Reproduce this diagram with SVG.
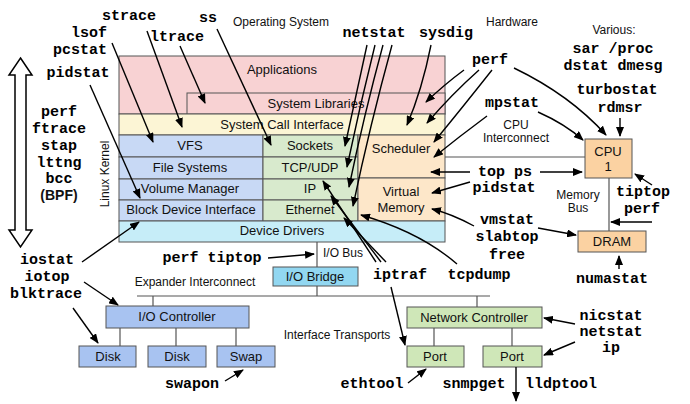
<svg xmlns="http://www.w3.org/2000/svg" width="690" height="404" viewBox="0 0 690 404">
<defs>
<marker id="ah" markerUnits="userSpaceOnUse" markerWidth="10" markerHeight="8" refX="9" refY="4" orient="auto"><path d="M0,0 L10,4 L0,8 Z" fill="#000"/></marker>
</defs>
<style>
.t{font-family:"Liberation Sans",Arial,sans-serif;font-size:13px;fill:#111;text-anchor:middle}
.s{font-size:12px}
.m{font-family:"Liberation Mono","Courier New",monospace;font-size:15px;font-weight:bold;fill:#000;text-anchor:middle}
.b{stroke:#555;stroke-width:1}
.pink{fill:#f8d2d3}
.yel{fill:#fcf5d5}
.blu{fill:#c8d9f5}
.grn{fill:#d8eacd}
.org{fill:#fde7c9}
.cyn{fill:#c6edf8}
.hw{fill:#fbd2a2}
.dsk{fill:#a8c3f1}
.nic{fill:#cfe7b8}
.a{fill:none;stroke:#000;stroke-width:1.4;marker-end:url(#ah)}
.l{fill:none;stroke:#555;stroke-width:1.2}
</style>
<rect width="690" height="404" fill="#fff"/>

<g id="labels">
<text class="t s" x="281" y="26">Operating System</text>
<text class="t s" x="512" y="26">Hardware</text>
<text class="t s" x="614" y="34">Various:</text>
<text class="t s" x="516" y="129">CPU</text>
<text class="t s" x="516" y="142">Interconnect</text>
<text class="t s" x="578" y="199">Memory</text>
<text class="t s" x="578" y="212">Bus</text>
<text class="t s" x="343" y="257">I/O Bus</text>
<text class="t s" x="195" y="286">Expander Interconnect</text>
<text class="t s" x="337" y="339">Interface Transports</text>
<text class="t s" transform="rotate(-90 105 174)" x="105" y="178">Linux Kernel</text>
</g>

<g id="tracers-arrow">
<polygon points="20.5,58 32,75 26,75 26,230 32,230 20.5,247 9,230 15,230 15,75 9,75" fill="#fff" stroke="#000" stroke-width="1.5"/>
<text class="m" x="59" y="116">perf</text>
<text class="m" x="59" y="133">ftrace</text>
<text class="m" x="59" y="150">stap</text>
<text class="m" x="59" y="167">lttng</text>
<text class="m" x="59" y="183">bcc</text>
<text class="t" x="59" y="200" style="font-size:14px;font-weight:bold">(BPF)</text>
</g>

<g id="applications"><rect class="b pink" x="119" y="56" width="326" height="58"/><text class="t" x="282" y="74">Applications</text></g>
<g id="system-libraries"><rect class="b pink" x="187" y="93" width="258" height="21"/><text class="t" x="316" y="108">System Libraries</text></g>
<g id="system-call-interface"><rect class="b yel" x="119" y="114" width="326" height="21"/><text class="t" x="282" y="129">System Call Interface</text></g>
<g id="vfs"><rect class="b blu" x="119" y="135" width="144" height="22"/><text class="t" x="190" y="150">VFS</text></g>
<g id="file-systems"><rect class="b blu" x="119" y="157" width="144" height="22"/><text class="t" x="190" y="172">File Systems</text></g>
<g id="volume-manager"><rect class="b blu" x="119" y="179" width="144" height="21"/><text class="t" x="190" y="193">Volume Manager</text></g>
<g id="block-device-interface"><rect class="b blu" x="119" y="200" width="144" height="21"/><text class="t" x="191" y="214">Block Device Interface</text></g>
<g id="sockets"><rect class="b grn" x="263" y="135" width="95" height="22"/><text class="t" x="310" y="150">Sockets</text></g>
<g id="tcp-udp"><rect class="b grn" x="263" y="157" width="95" height="22"/><text class="t" x="310" y="172">TCP/UDP</text></g>
<g id="ip"><rect class="b grn" x="263" y="179" width="95" height="21"/><text class="t" x="310" y="193">IP</text></g>
<g id="ethernet"><rect class="b grn" x="263" y="200" width="95" height="21"/><text class="t" x="310" y="214">Ethernet</text></g>
<g id="scheduler"><rect class="b org" x="358" y="135" width="87" height="43"/><text class="t" x="401" y="153">Scheduler</text></g>
<g id="virtual-memory"><rect class="b org" x="358" y="178" width="87" height="43"/><text class="t" x="401" y="196">Virtual</text><text class="t" x="401" y="212">Memory</text></g>
<g id="device-drivers"><rect class="b cyn" x="119" y="221" width="326" height="21"/><text class="t" x="282" y="235">Device Drivers</text></g>

<g id="cpu"><rect class="b hw" x="585" y="139" width="47" height="39"/><text class="t" x="608" y="156">CPU</text><text class="t" x="608" y="171">1</text></g>
<g id="dram"><rect class="b hw" x="578" y="231" width="68" height="21"/><text class="t" x="612" y="246">DRAM</text></g>
<g id="io-bridge"><rect class="b" fill="#92d7f1" x="273" y="267" width="85" height="19"/><text class="t" x="315" y="281">I/O Bridge</text></g>
<g id="io-controller"><rect class="b dsk" x="106" y="306" width="143" height="22"/><text class="t" x="177" y="321">I/O Controller</text></g>
<g id="disk1"><rect class="b dsk" x="79" y="346" width="57" height="21"/><text class="t" x="108" y="361">Disk</text></g>
<g id="disk2"><rect class="b dsk" x="148" y="346" width="58" height="21"/><text class="t" x="177" y="361">Disk</text></g>
<g id="swap"><rect class="b dsk" x="217" y="346" width="58" height="21"/><text class="t" x="246" y="361">Swap</text></g>
<g id="network-controller"><rect class="b nic" x="407" y="307" width="135" height="21"/><text class="t" x="474" y="322">Network Controller</text></g>
<g id="port1"><rect class="b nic" x="407" y="346" width="57" height="21"/><text class="t" x="435" y="361">Port</text></g>
<g id="port2"><rect class="b nic" x="483" y="346" width="59" height="21"/><text class="t" x="512" y="361">Port</text></g>

<g id="tools">
<text class="m" x="129" y="20">strace</text>
<text class="m" x="208" y="22">ss</text>
<text class="m" x="89" y="37">lsof</text>
<text class="m" x="80" y="54">pcstat</text>
<text class="m" x="177" y="41">ltrace</text>
<text class="m" x="78" y="77">pidstat</text>
<text class="m" x="374" y="37">netstat</text>
<text class="m" x="446" y="37">sysdig</text>
<text class="m" x="490" y="64">perf</text>
<text class="m" x="512" y="107">mpstat</text>
<text class="m" x="613" y="53">sar /proc</text>
<text class="m" x="613" y="70">dstat dmesg</text>
<text class="m" x="617" y="94">turbostat</text>
<text class="m" x="620" y="112">rdmsr</text>
<text class="m" x="505" y="176">top ps</text>
<text class="m" x="504" y="192">pidstat</text>
<text class="m" x="643" y="196">tiptop</text>
<text class="m" x="642" y="213">perf</text>
<text class="m" x="507" y="224">vmstat</text>
<text class="m" x="507" y="241">slabtop</text>
<text class="m" x="507" y="259">free</text>
<text class="m" x="612" y="283">numastat</text>
<text class="m" x="47" y="264">iostat</text>
<text class="m" x="47" y="281">iotop</text>
<text class="m" x="46" y="298">blktrace</text>
<text class="m" x="212" y="262">perf tiptop</text>
<text class="m" x="400" y="279">iptraf</text>
<text class="m" x="479" y="279">tcpdump</text>
<text class="m" x="611" y="320">nicstat</text>
<text class="m" x="611" y="336">netstat</text>
<text class="m" x="611" y="352">ip</text>
<text class="m" x="192" y="388">swapon</text>
<text class="m" x="372" y="388">ethtool</text>
<text class="m" x="474" y="388">snmpget</text>
<text class="m" x="561" y="388">lldptool</text>
</g>

<g id="connectors">
<path class="l" d="M445,157 H585 M609,178 V231 M317,242 V267 M317,286 V296 M137,296 H490 M153,296 V306 M477,296 V307 M120,328 V346 M176,328 V346 M236,328 V346 M434,328 V346 M512,328 V346"/>
<path class="a" d="M147,31 L182,127"/>
<path class="a" d="M180,46 L205,103"/>
<path class="a" d="M112,43 L153,142"/>
<path class="a" d="M90,85 L140,198"/>
<path class="a" d="M217,29 L271,145"/>
<path class="a" d="M367,45 Q356,95 345,146"/>
<path class="a" d="M375,45 Q360,105 347,167"/>
<path class="a" d="M383,45 Q364,115 349,187"/>
<path class="a" d="M392,45 Q370,125 353,206"/>
<path class="a" d="M431,45 Q422,90 407,125"/>
<path class="a" d="M464,70 Q445,84 426,102"/>
<path class="a" d="M479,70 Q452,94 427,123"/>
<path class="a" d="M492,70 Q462,108 434,142"/>
<path class="a" d="M487,116 Q460,136 434,157"/>
<path class="a" d="M514,68 Q570,95 606,135"/>
<path class="a" d="M538,112 Q565,124 583,140"/>
<path class="a" d="M620,118 L620,136"/>
<path class="a" d="M470,172 L431,172"/>
<path class="a" d="M540,172 L582,172"/>
<path class="a" d="M470,182 L432,193"/>
<path class="a" d="M474,226 Q452,214 432,209"/>
<path class="a" d="M538,228 L576,235"/>
<path class="a" d="M652,185 L635,174"/>
<path class="a" d="M652,222 L611,222"/>
<path class="a" d="M619,269 L619,256"/>
<path class="a" d="M457,264 Q420,232 361,215"/>
<path class="a" d="M376,262 L323,181"/>
<path class="a" d="M381,262 L331,196"/>
<path class="a" d="M386,262 L344,218"/>
<path class="a" d="M391,287 L405,345"/>
<path class="a" d="M82,262 L139,222"/>
<path class="a" d="M84,282 L118,305"/>
<path class="a" d="M73,308 L98,343"/>
<path class="a" d="M225,381 L243,370"/>
<path class="a" d="M268,258 L314,254"/>
<path class="a" d="M575,324 L544,318"/>
<path class="a" d="M575,342 L544,355"/>
<path class="a" d="M408,383 L426,369"/>
<path class="a" d="M516,367 L516,401"/>
</g>
</svg>
